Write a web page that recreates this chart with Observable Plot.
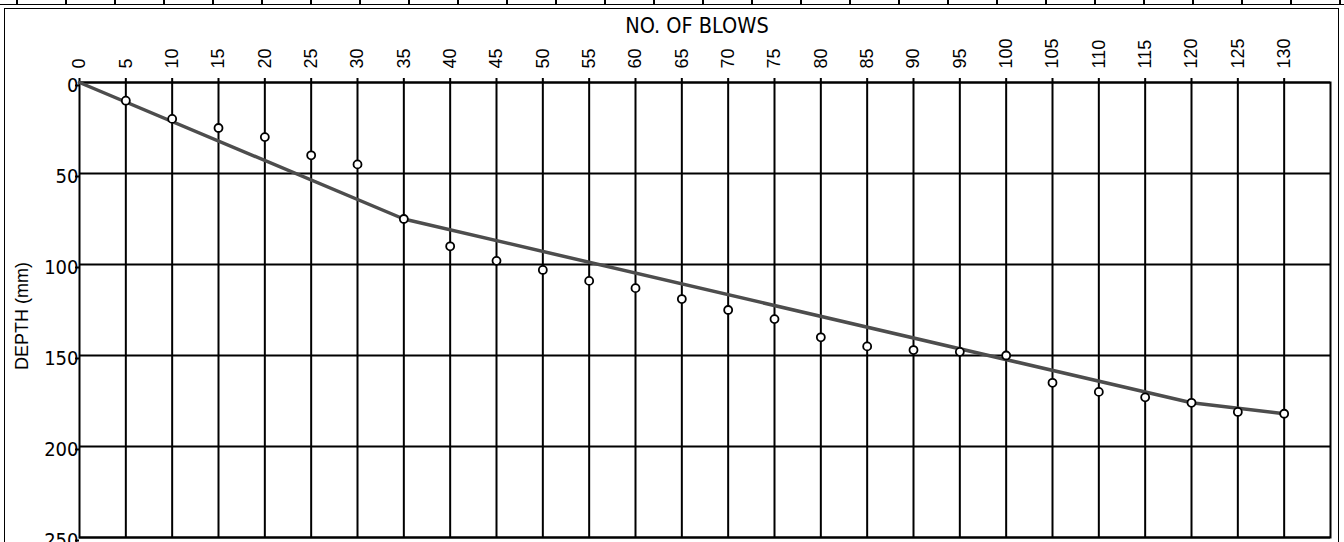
<!DOCTYPE html>
<html>
<head>
<meta charset="utf-8">
<script src="https://cdn.jsdelivr.net/npm/d3@7"></script>
<script src="https://cdn.jsdelivr.net/npm/@observablehq/plot@0.6"></script>
<style>
  html, body { margin: 0; padding: 0; background: #fff; }
  #wrap { position: relative; width: 1344px; height: 542px; overflow: hidden; }
  #chart { position: absolute; left: 0; top: 0; }
  #strip { position: absolute; left: 0; top: 0; width: 1344px; height: 4px; border-bottom: 1.5px solid #000;
    background-image: repeating-linear-gradient(to right, #000 0, #000 1.5px, transparent 1.5px, transparent 49px);
    background-position: 16px 0; z-index: 2; }
  #box { position: absolute; left: 4px; top: 8px; width: 1335px; height: 560px; border: 1.5px solid #000; box-sizing: border-box; z-index: 2; pointer-events: none; }
</style>
</head>
<body>
<div id="wrap">
  <div id="chart"></div>
  <div id="strip"></div>
  <div id="box"></div>
</div>
<script>
// Observed blow counts and penetration depths (mm)
const blows = [5, 10, 15, 20, 25, 30, 35, 40, 45, 50, 55, 60, 65, 70, 75, 80, 85, 90, 95, 100, 105, 110, 115, 120, 125, 130];
const depths = [10, 20, 25, 30, 40, 45, 75, 90, 98, 103, 109, 113, 119, 125, 130, 140, 145, 147, 148, 150, 165, 170, 173, 176, 181, 182];

// Fitted trend line vertices
const trendBlows = [0, 35, 120, 130];
const trendDepths = [0, 75, 176, 182];

// Tick labels
const xTicks = [0, 5, 10, 15, 20, 25, 30, 35, 40, 45, 50, 55, 60, 65, 70, 75, 80, 85, 90, 95, 100, 105, 110, 115, 120, 125, 130];
const yTicks = [0, 50, 100, 150, 200, 250];

const xTitle = "NO. OF BLOWS";
const yTitle = "DEPTH (mm)";

const points = blows.map((b, i) => ({blows: b, depth: depths[i]}));
const trend = trendBlows.map((b, i) => ({blows: b, depth: trendDepths[i]}));

const chart = Plot.plot({
  width: 1344,
  height: 542,
  marginTop: 82,
  marginBottom: 5,
  marginLeft: 79,
  marginRight: 14,
  style: {fontFamily: "'Liberation Sans', Arial, sans-serif", color: "#000", background: "transparent"},
  x: {domain: [0, 135]},
  y: {domain: [0, 250], reverse: true},
  marks: [
    Plot.ruleX(xTicks.filter(d => d > 0), {stroke: "#000", strokeWidth: 2}),
    Plot.ruleY(yTicks, {stroke: "#000", strokeWidth: 2}),
    Plot.frame({stroke: "#000", strokeWidth: 2}),
    Plot.axisX({anchor: "top", ticks: xTicks, tickRotate: -90, tickSize: 5, tickPadding: 9, tickFormat: d => String(d), fontSize: 18, fontFamily: "'Liberation Sans', Arial, sans-serif", label: null, strokeWidth: 2}),
    Plot.axisY({ticks: yTicks, tickSize: 4, tickPadding: -3, tickFormat: d => String(d), fontSize: 20, fontFamily: "'DejaVu Sans Condensed', 'DejaVu Sans', sans-serif", dy: 3, label: null, strokeWidth: 2}),
    Plot.text([xTitle], {frameAnchor: "top", text: d => d, dy: -65, dx: -8, fontSize: 21.5, fontFamily: "'DejaVu Sans Condensed', 'DejaVu Sans', sans-serif", fill: "#000"}),
    Plot.text([yTitle], {frameAnchor: "left", text: d => d, textAnchor: "middle", rotate: -90, dx: -57, dy: 6, fontSize: 18, fontFamily: "'Liberation Sans', Arial, sans-serif", fill: "#000"}),
    Plot.line(trend, {x: "blows", y: "depth", stroke: "#4d4d4d", strokeWidth: 3.5}),
    Plot.dot(points, {x: "blows", y: "depth", r: 4, fill: "#fff", stroke: "#000", strokeWidth: 1.8})
  ]
});
document.getElementById("chart").appendChild(chart);
</script>
</body>
</html>
